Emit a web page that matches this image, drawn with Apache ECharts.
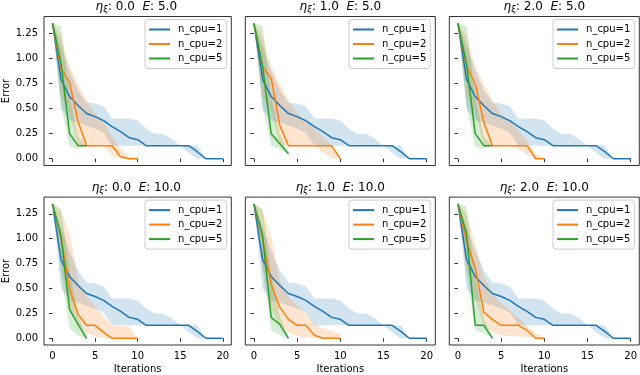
<!DOCTYPE html>
<html>
<head>
<meta charset="utf-8">
<script src="https://cdn.jsdelivr.net/npm/echarts@6/dist/echarts.min.js"></script>
<style>
  html, body { margin: 0; padding: 0; background: #fff; }
  #main { width: 640px; height: 375px; }
</style>
</head>
<body>
<div id="main"></div>
<script>
const etaLabels = ['0.0', '1.0', '2.0'];
const eLabels = ['5.0', '10.0'];
const seriesNames = ['n_cpu=1', 'n_cpu=2', 'n_cpu=5'];
const xTicks = [0, 5, 10, 15, 20];
const yTicks = [0, 0.25, 0.5, 0.75, 1.0, 1.25];

// n_cpu=1 looks the same in every panel
const cpu1Mean  = [1.35, 0.79, 0.62, 0.53, 0.45, 0.42, 0.38, 0.32, 0.27, 0.21, 0.19, 0.13, 0.13, 0.13, 0.13, 0.13, 0.13, 0.07, 0, 0, 0];
const cpu1Upper = [1.35, 1.12, 0.88, 0.68, 0.56, 0.55, 0.52, 0.40, 0.40, 0.40, 0.38, 0.30, 0.25, 0.25, 0.20, 0.13, 0.13, 0.13, 0, 0, 0];
const cpu1Lower = [1.35, 0.50, 0.38, 0.36, 0.33, 0.30, 0.26, 0.13, 0.13, 0.13, 0.13, 0.13, 0.13, 0.13, 0.13, 0.13, 0.06, 0, 0, 0, 0];

// one row per panel: E=5 (eta 0,1,2), then E=10 (eta 0,1,2)
const cpu2Mean = [
  [1.35, 0.90, 0.76, 0.37, 0.13, 0.13, 0.13, 0.13, 0.02, 0, 0],
  [1.35, 0.92, 0.80, 0.33, 0.13, 0.13, 0.13, 0.13, 0.13, 0.13, 0],
  [1.35, 0.92, 0.75, 0.36, 0.13, 0.13, 0.13, 0.13, 0.13, 0, 0],
  [1.35, 1.02, 0.50, 0.24, 0.13, 0.13, 0.06, 0, 0, 0, 0],
  [1.35, 1.00, 0.54, 0.31, 0.19, 0.13, 0.13, 0.03, 0, 0, 0],
  [1.35, 0.97, 0.71, 0.26, 0.19, 0.13, 0.13, 0.13, 0.08, 0, 0]
];
const cpu2Upper = [
  [1.35, 1.22, 0.92, 0.74, 0.58, 0.45, 0.38, 0.22, 0.10, 0.02, 0],
  [1.35, 1.22, 0.92, 0.74, 0.58, 0.45, 0.38, 0.30, 0.22, 0.13, 0],
  [1.35, 1.22, 0.92, 0.74, 0.58, 0.45, 0.38, 0.28, 0.18, 0.05, 0],
  [1.35, 1.27, 1.05, 0.58, 0.42, 0.32, 0.22, 0.13, 0.12, 0.12, 0],
  [1.35, 1.28, 1.02, 0.58, 0.42, 0.33, 0.25, 0.15, 0.10, 0.07, 0.05],
  [1.35, 1.25, 0.95, 0.62, 0.45, 0.35, 0.28, 0.20, 0.13, 0.05, 0]
];
const cpu2Lower = [
  [1.35, 0.62, 0.45, 0.13, 0.13, 0.13, 0.13, 0.03, 0, 0, 0],
  [1.35, 0.62, 0.48, 0.13, 0.13, 0.13, 0.13, 0.13, 0.06, 0.01, 0],
  [1.35, 0.62, 0.46, 0.13, 0.13, 0.13, 0.13, 0.10, 0.04, 0, 0],
  [1.35, 0.75, 0.30, 0.13, 0.05, 0.02, 0, 0, 0, 0, 0],
  [1.35, 0.72, 0.30, 0.13, 0.06, 0.02, 0.01, 0, 0, 0, 0],
  [1.35, 0.70, 0.40, 0.12, 0.06, 0.03, 0.02, 0.02, 0.01, 0, 0]
];

const cpu5Mean = [
  [1.35, 0.95, 0.25, 0.13, 0.13],
  [1.35, 0.92, 0.25, 0.15, 0.05],
  [1.35, 0.94, 0.25, 0.13, 0.13],
  [1.35, 1.02, 0.29, 0.14, 0],
  [1.35, 1.03, 0.21, 0.14, 0],
  [1.35, 1.05, 0.13, 0.13, 0]
];
const cpu5Upper = [
  [1.35, 1.32, 0.62, 0.22, 0.13],
  [1.35, 1.32, 0.60, 0.25, 0.06],
  [1.35, 1.32, 0.62, 0.22, 0.13],
  [1.35, 1.30, 0.70, 0.22, 0.03],
  [1.35, 1.30, 0.65, 0.22, 0.02],
  [1.35, 1.32, 0.60, 0.20, 0.02]
];
const cpu5Lower = [
  [1.35, 0.55, 0.12, 0.10, 0.13],
  [1.35, 0.52, 0.13, 0.10, 0.04],
  [1.35, 0.52, 0.12, 0.10, 0.13],
  [1.35, 0.65, 0.10, 0.03, 0],
  [1.35, 0.68, 0.08, 0.03, 0],
  [1.35, 0.65, 0.08, 0.05, 0]
];

const colors = ['#1f77b4', '#ff7f0e', '#2ca02c'];
const font = 'DejaVu Sans';
const gridLefts = [41.3, 245.3, 449.3];
const gridTops = [16.5, 197.1];
const gridW = 190, gridH = 149;

const grids = [], xAxes = [], yAxes = [], titles = [], legends = [], series = [];

for (let row = 0; row < 2; row++) {
  for (let col = 0; col < 3; col++) {
    const k = row * 3 + col;
    const left = gridLefts[col], top = gridTops[row];
    grids.push({ left: left, top: top, width: gridW, height: gridH, show: true,
      borderColor: '#000', borderWidth: 0.8, backgroundColor: 'transparent' });

    xAxes.push({
      type: 'value', gridIndex: k, min: -1, max: 21,
      splitLine: { show: false },
      axisLine: { show: false },
      axisTick: { show: true, length: 3.5, customValues: xTicks, lineStyle: { color: '#000', width: 0.8 } },
      axisLabel: { show: row === 1, customValues: xTicks, margin: 6, fontSize: 10, fontFamily: font, color: '#000' },
      name: row === 1 ? 'Iterations' : '', nameLocation: 'middle', nameGap: 19,
      nameTextStyle: { fontSize: 10, fontFamily: font, color: '#000' }
    });
    yAxes.push({
      type: 'value', gridIndex: k, min: -0.0675, max: 1.4175,
      splitLine: { show: false },
      axisLine: { show: false },
      axisTick: { show: true, length: 3.5, customValues: yTicks, lineStyle: { color: '#000', width: 0.8 } },
      axisLabel: { show: col === 0, customValues: yTicks, margin: 6, fontSize: 10, fontFamily: font, color: '#000',
        formatter: v => v.toFixed(2) },
      name: col === 0 ? 'Error' : '', nameLocation: 'middle', nameGap: 33, nameRotate: 90,
      nameTextStyle: { fontSize: 10, fontFamily: font, color: '#000' }
    });

    titles.push({
      left: left + gridW / 2, top: top - 17, textAlign: 'center', padding: 0,
      text: '{i|η}{s|ξ}{n|: ' + etaLabels[col] + '  }{i|E}{n|: ' + eLabels[row] + '}',
      textStyle: {
        fontSize: 12, fontFamily: font, color: '#000', fontWeight: 'normal',
        rich: {
          i: { fontSize: 12, fontStyle: 'italic', fontFamily: font, color: '#000' },
          s: { fontSize: 8.5, fontStyle: 'italic', fontFamily: font, color: '#000', padding: [6, 0, 0, 0] },
          n: { fontSize: 12, fontFamily: font, color: '#000' }
        }
      }
    });

    legends.push({
      orient: 'vertical', right: 640 - (left + gridW) + 5, top: top + 3,
      data: seriesNames, icon: 'rect', itemWidth: 21, itemHeight: 2, itemGap: 2.5,
      selectedMode: false,
      textStyle: { fontSize: 10, fontFamily: font, color: '#000', lineHeight: 12, padding: [0, 0, 0, 3] },
      padding: [4, 4, 4, 4], borderColor: '#cccccc', borderWidth: 1, borderRadius: 3,
      backgroundColor: 'rgba(255,255,255,0.8)'
    });

    const means = [cpu1Mean, cpu2Mean[k], cpu5Mean[k]];
    const uppers = [cpu1Upper, cpu2Upper[k], cpu5Upper[k]];
    const lowers = [cpu1Lower, cpu2Lower[k], cpu5Lower[k]];

    for (let s = 0; s < 3; s++) {
      const up = uppers[s], lo = lowers[s], c = colors[s];
      series.push({
        type: 'custom', xAxisIndex: k, yAxisIndex: k, silent: true, z: 1,
        data: [[0, 0]],
        renderItem: function (params, api) {
          const pts = up.map((v, i) => api.coord([i, v]));
          const back = lo.map((v, i) => api.coord([i, v])).reverse();
          return { type: 'polygon', shape: { points: pts.concat(back) },
            style: { fill: c, opacity: 0.2 } };
        }
      });
    }
    for (let s = 0; s < 3; s++) {
      series.push({
        name: seriesNames[s], type: 'line', xAxisIndex: k, yAxisIndex: k, z: 3,
        showSymbol: false, symbol: 'none',
        data: means[s].map((v, i) => [i, v]),
        lineStyle: { color: colors[s], width: 1.5 },
        itemStyle: { color: colors[s] }
      });
    }
  }
}

const chart = echarts.init(document.getElementById('main'));
chart.setOption({
  animation: false,
  backgroundColor: '#fff',
  grid: grids, xAxis: xAxes, yAxis: yAxes,
  title: titles, legend: legends, series: series
});
</script>
</body>
</html>
